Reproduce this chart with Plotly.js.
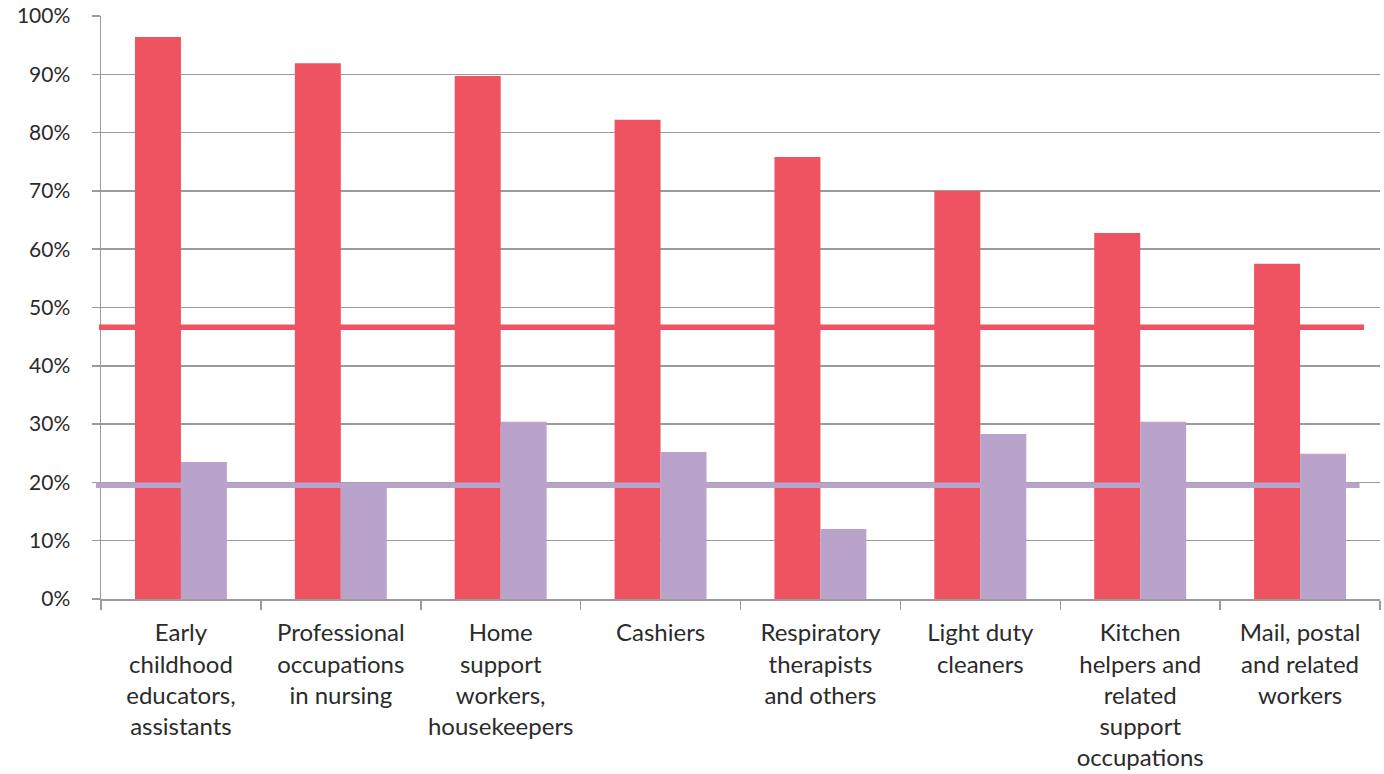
<!DOCTYPE html>
<html>
<head>
<meta charset="utf-8">
<script src="https://cdn.plot.ly/plotly-3.0.1.min.js"></script>
<style>
html,body{margin:0;padding:0;background:#fff;}
#chart{width:1384px;height:774px;}
</style>
</head>
<body>
<div id="chart"></div>
<script>
const categories = [
  "Early<br>childhood<br>educators,<br>assistants",
  "Professional<br>occupations<br>in nursing",
  "Home<br>support<br>workers,<br>housekeepers",
  "Cashiers",
  "Respiratory<br>therapists<br>and others",
  "Light duty<br>cleaners",
  "Kitchen<br>helpers and<br>related<br>support<br>occupations",
  "Mail, postal<br>and related<br>workers"
];
const seriesA = [96.4, 91.9, 89.7, 82.2, 75.8, 70.0, 62.8, 57.5];
const seriesB = [23.5, 19.9, 30.4, 25.2, 12.0, 28.3, 30.4, 24.9];
const averageA = 46.6;
const averageB = 19.5;
const yTicks = [0, 10, 20, 30, 40, 50, 60, 70, 80, 90, 100];

const RED = '#EF5261';
const LAV = '#B9A3CB';
const GRID = '#9b9b9b';
const FONT = 'Lato, "Open Sans", sans-serif';

const data = [
  {type:'bar', x:categories, y:seriesA, marker:{color:RED}, hoverinfo:'skip', name:'A'},
  {type:'bar', x:categories, y:seriesB, marker:{color:LAV}, hoverinfo:'skip', name:'B'}
];

const layout = {
  width:1384, height:774,
  margin:{l:101, r:4, t:16, b:175},
  paper_bgcolor:'#fff', plot_bgcolor:'#fff',
  showlegend:false,
  barmode:'group', bargap:0.425, bargroupgap:0,
  font:{family:FONT, color:'#2b2b2b'},
  xaxis:{
    type:'category',
    tickson:'boundaries',
    ticks:'outside', ticklen:9, tickwidth:1.5, tickcolor:GRID,
    showline:true, linecolor:GRID, linewidth:1.5,
    showgrid:false,
    ticklabelstandoff:12,
    tickfont:{family:FONT, size:24, color:'#2b2b2b'},
    automargin:false
  },
  yaxis:{
    range:[0,100],
    tickvals:yTicks,
    ticktext:yTicks.map(v=>v+'%'),
    ticks:'outside', ticklen:8, tickwidth:1.5, tickcolor:GRID,
    showline:true, linecolor:GRID, linewidth:1.5,
    showgrid:true, gridcolor:GRID, gridwidth:1.5,
    zeroline:false,
    ticklabelstandoff:17,
    tickfont:{family:FONT, size:21, color:'#2b2b2b'},
    automargin:false
  },
  shapes:[
    {type:'line', xref:'paper', yref:'y', x0:-0.0016, x1:0.9875, y0:averageA, y1:averageA,
     line:{color:RED, width:5.5}, layer:'above'},
    {type:'line', xref:'paper', yref:'y', x0:-0.004, x1:0.984, y0:averageB, y1:averageB,
     line:{color:LAV, width:5.5}, layer:'above'}
  ]
};

Plotly.newPlot('chart', data, layout, {staticPlot:true, displayModeBar:false});
</script>
</body>
</html>
